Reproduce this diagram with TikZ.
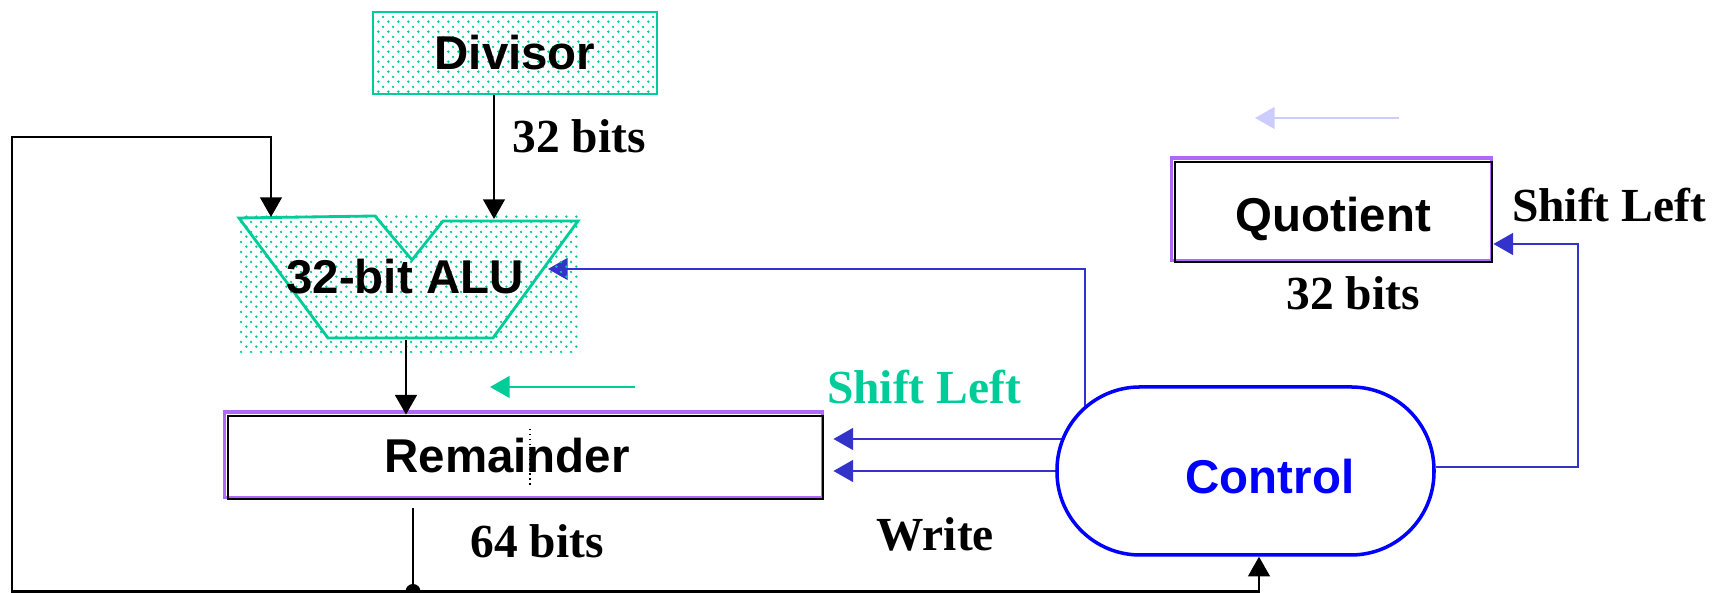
\documentclass[tikz,border=0pt]{standalone}
\usepackage{fontspec}
\setmainfont{Liberation Serif}
\setsansfont{Liberation Sans}
\usetikzlibrary{arrows.meta,patterns.meta,backgrounds}

\definecolor{padgreen}{RGB}{0,204,153}
\definecolor{ctlblue}{RGB}{51,51,204}
\definecolor{regpurple}{RGB}{175,105,250}
\definecolor{faintblue}{RGB}{204,204,255}

% staggered dot fill for the divisor and the ALU
\tikzdeclarepattern{
  name=padding,
  type=uncolored,
  bounding box={(0,0) and (2.9pt,2.9pt)},
  tile size={(2.9pt,2.9pt)},
  code={
    \fill (0.725pt,0.725pt) circle [radius=0.4pt];
    \fill (2.175pt,2.175pt) circle [radius=0.4pt];
  }
}

\begin{document}
\begin{tikzpicture}[
    font=\fontsize{13.5}{16}\selectfont\bfseries,
    >={Triangle[width=6.2pt,length=5.6pt]},
    wire/.style={line width=0.6pt},
    ctl/.style={ctlblue, line width=0.65pt, ->},
    padbox/.style={draw=padgreen, line width=0.8pt, pattern=padding, pattern color=padgreen},
    regbox/.style={draw, line width=0.8pt}
  ]
    \useasboundingbox (0,0) rectangle (17.22,5.93);

    % Divisor
    \node (div) [padbox, minimum width=2.84cm, minimum height=0.82cm] at (5.15,5.40) {\sffamily Divisor};
    \node (divbits) at (5.79,4.565) {32 bits};

    % ALU
    \path [pattern=padding, pattern color=padgreen] (2.40,2.39) rectangle (5.80,3.78);
    \draw [padgreen, line width=0.8pt] (2.39,3.75) -- (3.75,3.77) -- (4.12,3.33) -- (4.43,3.72)
          -- (5.78,3.72) -- (4.93,2.55) -- (3.28,2.55) -- cycle;
    \node (alu) at (4.05,3.165) {\sffamily 32-bit ALU};
    \coordinate (aluA) at (2.71,3.76);
    \coordinate (aluB) at (4.94,3.74);
    \coordinate (aluR) at (5.48,3.24);
    \coordinate (aluout) at (4.06,2.53);

    % Remainder
    \node (rem) [regbox, minimum width=5.95cm, minimum height=0.83cm] at (5.255,1.355) {};
    \node (remlabel) at (5.07,1.37) {\sffamily Remainder};
    \draw [densely dotted, line width=0.4pt] (5.30,1.64) -- (5.30,1.07);
    \node (rembits) at (5.37,0.52) {64 bits};
    \node (remshift) [padgreen] at (9.24,2.06) {Shift Left};
    \node (remwrite) at (9.35,0.59) {Write};
    \draw [padgreen, line width=0.6pt, ->] (6.35,2.06) -- (4.90,2.06);

    % Quotient
    \node (quot) [regbox, minimum width=3.17cm, minimum height=1.0cm] at (13.335,3.81) {};
    \node (quotlabel) at (13.335,3.74) {\sffamily Quotient};
    \node (quotbits) at (13.53,3.00) {32 bits};
    \node (quotshift) at (16.09,3.88) {Shift Left};
    \draw [faintblue, line width=0.6pt, ->] (13.99,4.75) -- (12.55,4.75);

    % Control
    \node (control) [draw=blue, line width=1pt, fill=white, rounded corners=0.83cm,
                     minimum width=3.77cm, minimum height=1.68cm] at (12.455,1.22) {};
    \node (ctllabel) [blue] at (12.70,1.165) {\sffamily Control};

    % Data paths
    \coordinate (tap) at (4.13,0.015);
    \draw [wire, ->] (div.south -| aluB) -- (aluB);
    \draw [wire, ->] (aluout) -- (aluout |- rem.north);
    \draw [wire] (tap |- rem.south) ++(0,-0.08) -- (tap);
    \draw [wire, ->] (tap) -| (0.12,4.56) -| (aluA);
    \draw [wire, ->] (tap) -| ([xshift=1.35mm]control.south);
    \fill (tap) circle (0.075);

    \begin{scope}[on background layer]
      \foreach \r in {rem, quot}
        \draw [regpurple, line width=0.9pt] ([shift={(-0.02,0.025)}]\r.south west)
              rectangle ([shift={(-0.02,0.025)}]\r.north east);

      % Control lines
      \draw [ctl] (control.center -| 10.85,0) |- (aluR);
      \draw [ctl, shorten >=0.09cm] (control.center |- 0,1.54) -- (rem.east |- 0,1.54);
      \draw [ctl, shorten >=0.09cm] (control.center |- 0,1.22) -- (rem.east |- 0,1.22);
      \draw [ctl] (control.east |- 0,1.26) -- ++(1.42,0) |- (quot.east |- 0,3.49);
    \end{scope}
\end{tikzpicture}
\end{document}
